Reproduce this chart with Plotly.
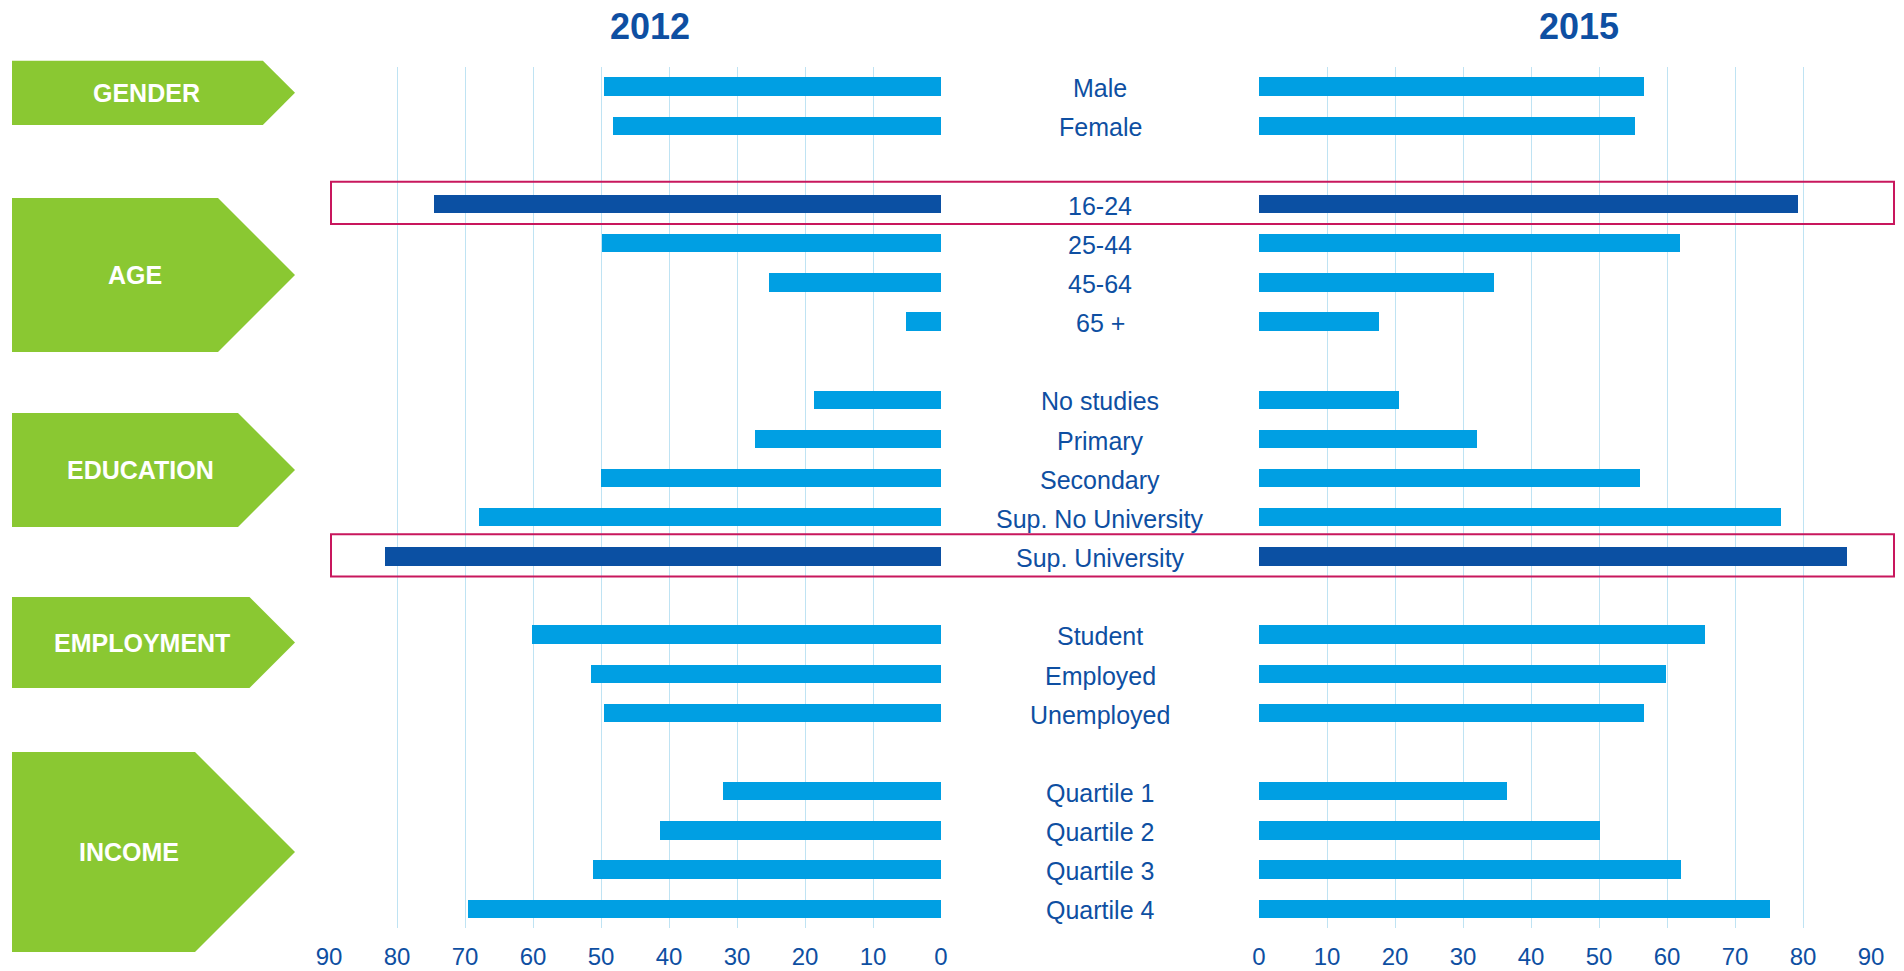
import plotly.graph_objects as go

# ---------------- data ----------------
group_names = ["GENDER", "AGE", "EDUCATION", "EMPLOYMENT", "INCOME"]
gender_cats = ["Male", "Female"]
age_cats = ["16-24", "25-44", "45-64", "65 +"]
education_cats = ["No studies", "Primary", "Secondary", "Sup. No University", "Sup. University"]
employment_cats = ["Student", "Employed", "Unemployed"]
income_cats = ["Quartile 1", "Quartile 2", "Quartile 3", "Quartile 4"]

values_2012 = [49.5, 48.2,
               74.5, 49.8, 25.3, 5.2,
               18.7, 27.4, 50.0, 68.0, 81.7,
               60.1, 51.5, 49.5,
               32.1, 41.3, 51.2, 69.6]
values_2015 = [56.6, 55.3,
               79.2, 61.9, 34.5, 17.7,
               20.6, 32.0, 56.1, 76.7, 86.4,
               65.6, 59.9, 56.6,
               36.4, 50.1, 62.0, 75.2]
highlighted = ["16-24", "Sup. University"]
year_labels = ["2012", "2015"]
tick_values = [0, 10, 20, 30, 40, 50, 60, 70, 80, 90]

# ---------------- layout constants ----------------
W, H = 1904, 971
LIGHT = "#009FE3"
DARK = "#0B50A3"
GREEN = "#8AC832"
RED = "#C8175D"
TEXT = "#0E4FA2"
GRID = "#BFE3F3"
FONT = "Arial, Liberation Sans, sans-serif"

groups = [gender_cats, age_cats, education_cats, employment_cats, income_cats]
categories, positions = [], []
pos = 0
for g in groups:
    for c in g:
        categories.append(c)
        positions.append(pos)
        pos += 1
    pos += 1  # spacer between groups

colors = [DARK if c in highlighted else LIGHT for c in categories]


def px(x):
    return x / W


def py(y):
    return 1 - y / H


fig = go.Figure()
fig.add_trace(go.Bar(x=values_2012, y=positions, orientation="h", width=0.47,
                     marker=dict(color=colors, line=dict(width=0)),
                     xaxis="x", yaxis="y", hoverinfo="x+text", text=categories,
                     textposition="none", showlegend=False))
fig.add_trace(go.Bar(x=values_2015, y=positions, orientation="h", width=0.47,
                     marker=dict(color=colors, line=dict(width=0)),
                     xaxis="x2", yaxis="y", hoverinfo="x+text", text=categories,
                     textposition="none", showlegend=False))

axis_common = dict(tickvals=tick_values, showgrid=True, gridcolor=GRID, gridwidth=1,
                   zeroline=False, showline=False, ticks="outside", ticklen=7,
                   tickcolor="rgba(0,0,0,0)", automargin=False,
                   tickfont=dict(family=FONT, size=24, color=TEXT), fixedrange=True)

fig.update_layout(
    width=W, height=H, autosize=False,
    margin=dict(l=0, r=0, t=0, b=0, pad=0, autoexpand=False),
    paper_bgcolor="white", plot_bgcolor="white",
    bargap=0, showlegend=False,
    xaxis=dict(domain=[px(329), px(941)], range=[90, 0], anchor="y", **axis_common),
    xaxis2=dict(domain=[px(1259), px(1871)], range=[0, 90], anchor="y", **axis_common),
    yaxis=dict(domain=[py(928), py(66.7)], range=[positions[-1] + 0.5, -0.5],
               showticklabels=False, showgrid=False, zeroline=False, fixedrange=True,
               automargin=False),
)

# category labels in the middle
annotations = []
for c, p in zip(categories, positions):
    annotations.append(dict(x=px(1100), y=p, xref="paper", yref="y", text=c,
                            showarrow=False, xanchor="center", yanchor="middle", yshift=-2,
                            font=dict(family=FONT, size=25, color=TEXT)))

# year titles
for label, xc in zip(year_labels, [650, 1579]):
    annotations.append(dict(x=px(xc), y=py(26), xref="paper", yref="paper",
                            text=f"<b>{label}</b>", showarrow=False,
                            xanchor="center", yanchor="middle",
                            font=dict(family=FONT, size=36, color=TEXT)))

# green chevron arrows (pixel geometry)
arrow_geo = [  # top, bottom, text x
    (60.7, 125, 146),
    (198, 352, 135),
    (413, 527, 140),
    (597, 688, 142),
    (752, 952, 129),
]
shapes = []
tip_x = 295
left_x = 12
for name, (top, bot, tx) in zip(group_names, arrow_geo):
    mid = (top + bot) / 2
    half = (bot - top) / 2
    body = tip_x - half
    path = (f"M {px(left_x)},{py(top)} L {px(body)},{py(top)} L {px(tip_x)},{py(mid)} "
            f"L {px(body)},{py(bot)} L {px(left_x)},{py(bot)} Z")
    shapes.append(dict(type="path", path=path, xref="paper", yref="paper",
                       fillcolor=GREEN, line=dict(width=0), layer="below"))
    annotations.append(dict(x=px(tx), y=py(mid), xref="paper", yref="paper",
                            text=f"<b>{name}</b>", showarrow=False,
                            xanchor="center", yanchor="middle",
                            font=dict(family=FONT, size=25, color="white")))

# red highlight boxes
for c, p in zip(categories, positions):
    if c in highlighted:
        shapes.append(dict(type="rect", xref="paper", yref="y",
                           x0=px(331), x1=px(1894), y0=p - 0.56, y1=p + 0.52,
                           line=dict(color=RED, width=2), fillcolor="rgba(0,0,0,0)",
                           layer="above"))

fig.update_layout(annotations=annotations, shapes=shapes)

fig.write_html("out.html", config={"displayModeBar": False},
               post_script="document.body.style.margin='0';document.body.style.overflow='hidden';")
